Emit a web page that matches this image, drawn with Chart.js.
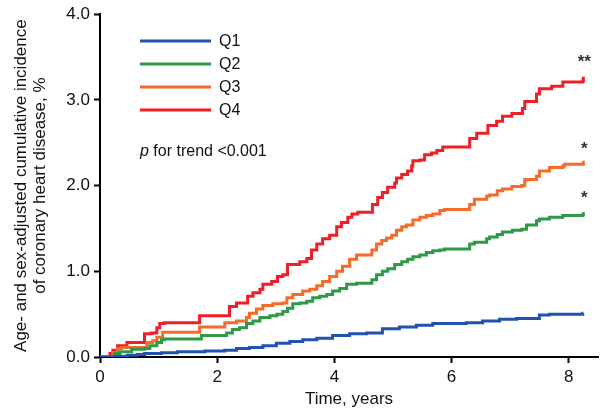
<!DOCTYPE html>
<html>
<head>
<meta charset="utf-8">
<script src="https://cdn.jsdelivr.net/npm/chart.js@4.4.1/dist/chart.umd.min.js"></script>
<style>
  html, body { margin: 0; padding: 0; background: #fff; }
  canvas { display: block; }
</style>
</head>
<body>
<canvas id="chartChd" width="600" height="410"></canvas>
<script>
const seriesNames = ['Q1', 'Q2', 'Q3', 'Q4'];
const seriesColors = ['#2152b0', '#2f9a45', '#f66a2a', '#ee1f26'];

// step points: time (years) where the curve jumps, and the value after the jump
const q1X = [0, 0.12, 0.25, 0.47, 0.64, 0.76, 1.05, 1.32, 1.79, 2.13, 2.33, 2.55, 2.78, 3.01, 3.24, 3.46, 3.70, 3.97, 4.26, 4.55, 4.82, 5.11, 5.40, 5.68, 6.25, 6.53, 6.82, 7.11, 7.50, 7.67, 8.24, 8.25];
const q1Y = [0, 0, 0.01, 0.02, 0.03, 0.04, 0.05, 0.06, 0.07, 0.08, 0.10, 0.11, 0.13, 0.16, 0.18, 0.20, 0.22, 0.25, 0.27, 0.28, 0.33, 0.35, 0.37, 0.39, 0.40, 0.42, 0.44, 0.45, 0.49, 0.50, 0.51, 0.51];

const q2X = [0, 0.12, 0.25, 0.34, 0.54, 0.76, 0.85, 0.97, 1.05, 1.10, 1.73, 2.16, 2.26, 2.38, 2.50, 2.61, 2.73, 2.90, 3.02, 3.12, 3.20, 3.29, 3.41, 3.53, 3.63, 3.75, 3.87, 3.97, 4.09, 4.21, 4.30, 4.38, 4.64, 4.72, 4.82, 4.91, 5.03, 5.15, 5.25, 5.34, 5.46, 5.57, 5.68, 5.80, 5.88, 6.31, 6.39, 6.60, 6.65, 6.78, 6.87, 7.04, 7.20, 7.28, 7.45, 7.50, 7.67, 7.90, 8.24, 8.25];
const q2Y = [0, 0, 0.04, 0.06, 0.09, 0.10, 0.13, 0.17, 0.20, 0.21, 0.25, 0.28, 0.32, 0.34, 0.39, 0.42, 0.46, 0.48, 0.50, 0.53, 0.57, 0.62, 0.63, 0.65, 0.69, 0.71, 0.73, 0.77, 0.80, 0.85, 0.85, 0.86, 0.90, 0.96, 1.00, 1.03, 1.08, 1.11, 1.14, 1.17, 1.19, 1.22, 1.24, 1.25, 1.26, 1.32, 1.34, 1.38, 1.40, 1.43, 1.46, 1.48, 1.49, 1.54, 1.59, 1.61, 1.63, 1.65, 1.66, 1.69];

const q3X = [0, 0.12, 0.22, 0.30, 0.37, 0.80, 0.90, 0.97, 1.07, 1.70, 2.13, 2.33, 2.50, 2.55, 2.67, 2.78, 2.95, 3.12, 3.19, 3.29, 3.46, 3.58, 3.70, 3.80, 3.92, 4.04, 4.14, 4.26, 4.38, 4.64, 4.72, 4.81, 4.89, 4.98, 5.06, 5.15, 5.23, 5.34, 5.46, 5.57, 5.68, 5.80, 5.88, 6.31, 6.39, 6.60, 6.65, 6.78, 6.87, 7.03, 7.20, 7.25, 7.45, 7.50, 7.67, 7.90, 7.93, 8.24, 8.25];
const q3Y = [0, 0, 0.05, 0.10, 0.11, 0.17, 0.19, 0.23, 0.29, 0.35, 0.40, 0.42, 0.46, 0.51, 0.56, 0.60, 0.62, 0.63, 0.69, 0.73, 0.77, 0.79, 0.83, 0.88, 0.94, 1.00, 1.06, 1.14, 1.19, 1.25, 1.32, 1.36, 1.39, 1.42, 1.48, 1.52, 1.54, 1.60, 1.63, 1.65, 1.67, 1.71, 1.72, 1.78, 1.84, 1.88, 1.89, 1.94, 1.96, 1.99, 2.00, 2.07, 2.11, 2.17, 2.21, 2.23, 2.25, 2.25, 2.29];

const q4X = [0, 0.08, 0.17, 0.22, 0.30, 0.46, 0.76, 0.76, 0.88, 0.97, 1.02, 1.10, 1.70, 2.21, 2.33, 2.52, 2.61, 2.73, 2.78, 2.93, 3.03, 3.12, 3.20, 3.41, 3.53, 3.61, 3.70, 3.80, 3.92, 4.04, 4.12, 4.23, 4.30, 4.40, 4.65, 4.74, 4.82, 4.91, 5.03, 5.06, 5.15, 5.25, 5.32, 5.34, 5.46, 5.54, 5.66, 5.75, 5.85, 6.31, 6.43, 6.62, 6.77, 6.87, 7.03, 7.21, 7.25, 7.45, 7.50, 7.71, 7.90, 8.24, 8.25];
const q4Y = [0, 0, 0.04, 0.08, 0.13, 0.17, 0.22, 0.27, 0.28, 0.34, 0.39, 0.40, 0.48, 0.59, 0.63, 0.71, 0.75, 0.79, 0.85, 0.88, 0.94, 0.96, 1.08, 1.11, 1.15, 1.25, 1.32, 1.38, 1.42, 1.52, 1.57, 1.63, 1.67, 1.69, 1.78, 1.86, 1.92, 1.98, 2.03, 2.09, 2.13, 2.17, 2.23, 2.29, 2.30, 2.36, 2.38, 2.41, 2.45, 2.55, 2.61, 2.70, 2.75, 2.81, 2.84, 2.90, 2.98, 3.07, 3.13, 3.16, 3.21, 3.22, 3.27];

const seriesX = [q1X, q2X, q3X, q4X];
const seriesY = [q1Y, q2Y, q3Y, q4Y];

const xTicks = [0, 2, 4, 6, 8];
const yTicks = [0, 1, 2, 3, 4];

// significance marks next to the curve ends
const starLabels = ['**', '*', '*'];
const starX = [8.25, 8.25, 8.25];
const starY = [3.45, 2.44, 1.86];

const trendText = 'for trend <0.001';

const FONT = "'Liberation Sans', Arial, sans-serif";

const overlay = {
  id: 'overlay',
  afterDatasetsDraw(chart) {
    const { ctx, scales: { x, y } } = chart;
    ctx.save();
    ctx.textBaseline = 'middle';
    ctx.fillStyle = '#111';

    // legend
    seriesNames.forEach((name, i) => {
      const yy = 41 + i * 23;
      ctx.strokeStyle = seriesColors[i];
      ctx.lineWidth = 3;
      ctx.beginPath();
      ctx.moveTo(140, yy);
      ctx.lineTo(211, yy);
      ctx.stroke();
      ctx.font = `16px ${FONT}`;
      ctx.fillText(name, 219, yy + 1);
    });

    // p for trend
    ctx.font = `italic 16px ${FONT}`;
    ctx.fillText('p', 140, 152);
    const pw = ctx.measureText('p ').width;
    ctx.font = `16px ${FONT}`;
    ctx.fillText(trendText, 140 + pw, 152);

    // stars
    ctx.font = `bold 17px ${FONT}`;
    ctx.fillStyle = '#333';
    ctx.textAlign = 'center';
    starLabels.forEach((s, i) => {
      ctx.fillText(s, x.getPixelForValue(starX[i]) + 1, y.getPixelForValue(starY[i]) + 1);
    });
    ctx.restore();
  }
};

new Chart(document.getElementById('chartChd'), {
  type: 'line',
  data: {
    datasets: seriesNames.map((name, i) => ({
      label: name,
      data: seriesX[i].map((t, k) => ({ x: t, y: seriesY[i][k] })),
      borderColor: seriesColors[i],
      borderWidth: 3,
      stepped: true,
      pointRadius: 0,
      fill: false,
    })),
  },
  options: {
    responsive: false,
    animation: false,
    devicePixelRatio: 1,
    layout: { padding: { top: 9, right: 2, left: 0, bottom: 0 } },
    plugins: { legend: { display: false }, tooltip: { enabled: false } },
    scales: {
      x: {
        type: 'linear',
        min: 0,
        max: 8.5,
        afterBuildTicks: axis => { axis.ticks = xTicks.map(v => ({ value: v })); },
        afterFit: axis => { axis.height = 53; },
        border: { color: '#000', width: 2 },
        grid: { drawOnChartArea: false, tickLength: 6, color: '#000', tickWidth: 2 },
        ticks: { color: '#111', font: { family: FONT, size: 17 }, padding: 4, maxRotation: 0 },
        title: { display: true, text: 'Time, years', color: '#111', font: { family: FONT, size: 17 }, padding: { top: 0, bottom: 0 } },
      },
      y: {
        min: 0,
        max: 4,
        afterBuildTicks: axis => { axis.ticks = yTicks.map(v => ({ value: v })); },
        afterFit: axis => { axis.width = 100; },
        border: { color: '#000', width: 2 },
        grid: { drawOnChartArea: false, tickLength: 6, color: '#000', tickWidth: 2 },
        ticks: { color: '#111', font: { family: FONT, size: 17 }, padding: 4, callback: v => v.toFixed(1) },
        title: {
          display: true,
          text: ['Age- and sex-adjusted cumulative incidence', 'of coronary heart disease, %'],
          color: '#111',
          font: { family: FONT, size: 17, lineHeight: 1.1 },
          padding: { top: 12, bottom: 0 },
        },
      },
    },
  },
  plugins: [overlay],
});
</script>
</body>
</html>
